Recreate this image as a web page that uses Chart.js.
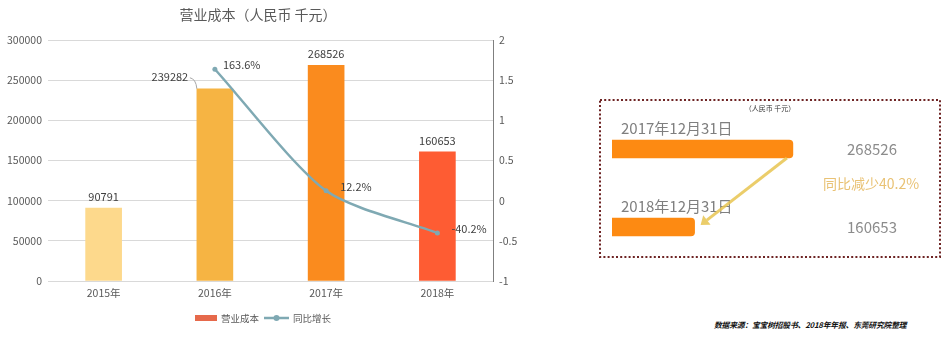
<!DOCTYPE html>
<html>
<head>
<meta charset="utf-8">
<script src="https://cdn.jsdelivr.net/npm/chart.js@4.4.1/dist/chart.umd.min.js"></script>
<style>
  html,body{margin:0;padding:0;background:#fff;}
  body{width:951px;height:353px;position:relative;overflow:hidden;font-family:"Noto Sans CJK SC",sans-serif;}
  #c1{position:absolute;left:0;top:0;}
  #c2{position:absolute;left:598px;top:98px;}
  #src{position:absolute;left:714px;top:319px;font-size:7.8px;font-style:italic;font-weight:bold;color:#111;white-space:nowrap;letter-spacing:-0.2px;}
</style>
</head>
<body>
<canvas id="c1" width="530" height="353"></canvas>
<canvas id="c2" width="346" height="175"></canvas>
<div id="src">数据来源：宝宝树招股书、2018年年报、东莞研究院整理</div>
<script>
// ---- data ----
const years = ['2015年', '2016年', '2017年', '2018年'];
const costValues = [90791, 239282, 268526, 160653];
const growthValues = [null, 1.636, 0.122, -0.402];
const chartTitle = '营业成本（人民币 千元）';
const seriesNames = ['营业成本', '同比增长'];
const compareLabels = ['2017年12月31日', '2018年12月31日'];
const compareValues = [268526, 160653];
const compareUnit = '（人民币 千元）';
const compareNote = '同比减少40.2%';

const FONT = '"Noto Sans CJK SC", sans-serif';
Chart.defaults.font.family = FONT;

const barColors = ['#FDD98C', '#F6B443', '#FA8B1E', '#FE5C33'];
const lineColor = '#7FA9B3';
const legendBarColor = '#E6694B';

const leftPlugin = {
  id: 'leftDecor',
  afterDatasetsDraw(chart) {
    const ctx = chart.ctx;
    ctx.save();
    ctx.font = '11px ' + FONT;
    ctx.fillStyle = '#404040';
    ctx.textBaseline = 'bottom';
    const bars = chart.getDatasetMeta(0).data;
    bars.forEach((el, i) => {
      const txt = String(costValues[i]);
      ctx.textAlign = 'center';
      if (i === 1) {
        ctx.fillText(txt, el.x - 45, el.y - 6);
        ctx.strokeStyle = '#A6A6A6';
        ctx.lineWidth = 1;
        ctx.beginPath();
        ctx.moveTo(el.x - 25, el.y - 11);
        ctx.quadraticCurveTo(el.x - 19, el.y - 10, el.x - 18, el.y);
        ctx.stroke();
      } else {
        ctx.fillText(txt, el.x, el.y - 6);
      }
    });
    const pts = chart.getDatasetMeta(1).data;
    ctx.textAlign = 'left';
    ctx.textBaseline = 'middle';
    pts.forEach((p, i) => {
      const v = growthValues[i];
      if (v === null || v === undefined) return;
      const dx = i === 1 ? 8 : 14;
      ctx.fillText((v * 100).toFixed(1) + '%', p.x + dx, p.y - 4);
    });
    ctx.restore();
  },
  afterDraw(chart) {
    const ctx = chart.ctx;
    ctx.save();
    ctx.font = '14px ' + FONT;
    ctx.fillStyle = '#595959';
    ctx.textAlign = 'center';
    ctx.textBaseline = 'middle';
    ctx.fillText(chartTitle, 258, 15);
    // legend
    ctx.fillStyle = legendBarColor;
    ctx.fillRect(195, 315, 22, 6);
    ctx.font = '9.5px ' + FONT;
    ctx.fillStyle = '#595959';
    ctx.textAlign = 'left';
    ctx.fillText(seriesNames[0], 221, 318);
    ctx.strokeStyle = lineColor;
    ctx.lineWidth = 2.5;
    ctx.beginPath();
    ctx.moveTo(264, 318);
    ctx.lineTo(289, 318);
    ctx.stroke();
    ctx.fillStyle = lineColor;
    ctx.beginPath();
    ctx.arc(276.5, 318, 3, 0, Math.PI * 2);
    ctx.fill();
    ctx.fillStyle = '#595959';
    ctx.fillText(seriesNames[1], 293, 318);
    ctx.restore();
  }
};

new Chart(document.getElementById('c1'), {
  data: {
    labels: years,
    datasets: [
      {
        type: 'bar',
        label: seriesNames[0],
        data: costValues,
        backgroundColor: barColors,
        barThickness: 36,
        yAxisID: 'y',
        order: 2
      },
      {
        type: 'line',
        label: seriesNames[1],
        data: growthValues,
        borderColor: lineColor,
        backgroundColor: lineColor,
        borderWidth: 2.5,
        tension: 0.25,
        pointRadius: 2.5,
        pointBackgroundColor: lineColor,
        pointBorderWidth: 0,
        yAxisID: 'y1',
        order: 1
      }
    ]
  },
  options: {
    responsive: false,
    animation: false,
    devicePixelRatio: 1,
    layout: { padding: { top: 40, bottom: 47, left: 0, right: 0 } },
    plugins: { legend: { display: false }, title: { display: false }, tooltip: { enabled: false } },
    scales: {
      x: {
        grid: { display: false, drawTicks: false },
        border: { display: true, color: '#D9D9D9' },
        ticks: { color: '#595959', font: { size: 10.5 }, padding: 6 },
        afterFit: s => { s.height = 25; }
      },
      y: {
        position: 'left',
        min: 0, max: 300000,
        ticks: { stepSize: 50000, color: '#595959', font: { size: 10.5 }, padding: 6, callback: v => String(v) },
        grid: { color: '#D9D9D9', drawTicks: false },
        border: { display: false },
        afterFit: s => { s.width = 48; }
      },
      y1: {
        position: 'right',
        min: -1, max: 2,
        ticks: { stepSize: 0.5, color: '#595959', font: { size: 10.5 }, padding: 6, callback: v => String(v) },
        grid: { display: false, drawTicks: false },
        border: { display: true, color: '#7F7F7F' },
        afterFit: s => { s.width = 37; }
      }
    }
  },
  plugins: [leftPlugin]
});

// ---- right comparison panel ----
const rightPlugin = {
  id: 'rightDecor',
  beforeDraw(chart) {
    const ctx = chart.ctx;
    ctx.save();
    ctx.strokeStyle = '#6E2424';
    ctx.lineWidth = 2;
    ctx.setLineDash([2, 2.2]);
    ctx.strokeRect(2, 2, 340, 157);
    ctx.restore();
  },
  afterDatasetsDraw(chart) {
    const ctx = chart.ctx;
    const bars = chart.getDatasetMeta(0).data;
    ctx.save();
    ctx.font = '7px ' + FONT;
    ctx.fillStyle = '#333';
    ctx.textAlign = 'center';
    ctx.textBaseline = 'middle';
    ctx.fillText(compareUnit, 172, 10);

    ctx.font = '15px ' + FONT;
    bars.forEach((el, i) => {
      ctx.fillStyle = '#7F7F7F';
      ctx.textAlign = 'left';
      ctx.fillText(compareLabels[i], 23, el.y - 21);
      ctx.fillStyle = '#8C8C8C';
      ctx.textAlign = 'center';
      ctx.fillText(String(compareValues[i]), 274, el.y);
    });
    ctx.font = '14px ' + FONT;
    ctx.fillStyle = '#E9C274';
    ctx.textAlign = 'center';
    ctx.fillText(compareNote, 273, 86);
    const a = bars[0], b = bars[1];
    const sx = a.x - 6, sy = a.y + 9;
    const ex = b.x + 6, ey = b.y - 2;
    ctx.strokeStyle = 'rgba(232,196,80,0.85)';
    ctx.fillStyle = 'rgba(232,196,80,0.85)';
    ctx.lineWidth = 3;
    const ang = Math.atan2(ey - sy, ex - sx);
    const hx = ex - Math.cos(ang) * 8, hy = ey - Math.sin(ang) * 8;
    ctx.beginPath();
    ctx.moveTo(sx, sy);
    ctx.lineTo(hx, hy);
    ctx.stroke();
    ctx.beginPath();
    ctx.moveTo(ex, ey);
    ctx.lineTo(hx + Math.cos(ang + Math.PI / 2) * 6, hy + Math.sin(ang + Math.PI / 2) * 6);
    ctx.lineTo(hx + Math.cos(ang - Math.PI / 2) * 6, hy + Math.sin(ang - Math.PI / 2) * 6);
    ctx.closePath();
    ctx.fill();
    ctx.restore();
  }
};

new Chart(document.getElementById('c2'), {
  type: 'bar',
  data: {
    labels: compareLabels,
    datasets: [{
      data: compareValues,
      backgroundColor: '#FD8A12',
      borderRadius: 4,
      borderSkipped: false,
      barThickness: 18
    }]
  },
  options: {
    indexAxis: 'y',
    responsive: false,
    animation: false,
    devicePixelRatio: 1,
    layout: { padding: { top: 12, bottom: 7, left: 14, right: 4 } },
    plugins: { legend: { display: false }, tooltip: { enabled: false } },
    scales: {
      x: { display: false, min: 70000, max: 430000 },
      y: { display: false }
    }
  },
  plugins: [rightPlugin]
});
</script>
</body>
</html>
